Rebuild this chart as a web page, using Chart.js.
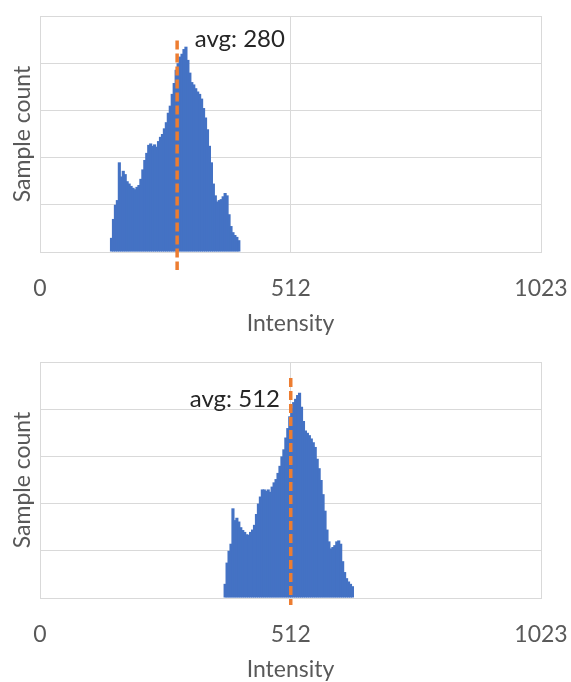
<!DOCTYPE html>
<html>
<head>
<meta charset="utf-8">
<title>Intensity histograms</title>
<script src="https://cdn.jsdelivr.net/npm/chart.js@4.4.1/dist/chart.umd.min.js"></script>
<style>
    html, body { margin: 0; padding: 0; background: #fff; overflow: hidden; }
    .panel { position: relative; width: 571px; height: 346px; }
</style>
</head>
<body>
<div class="panel"><canvas id="chartTop" width="571" height="346"></canvas></div>
<div class="panel"><canvas id="chartBottom" width="571" height="346"></canvas></div>
<script>
// -------------------------------------------------------
// Data
// -------------------------------------------------------
const X_TICKS = [0, 512, 1023];
const BIN_WIDTH = 4;

// upper panel: bins start at intensity 144
const topBinStart = 144;
const topCounts = [0.3, 0.7, 1.0, 1.1, 1.9, 1.6, 1.72, 1.65, 1.5, 1.45, 1.4, 1.36, 1.33, 1.38, 1.42,
    1.55, 1.75, 1.95, 2.1, 2.27, 2.3, 2.25, 2.28, 2.23, 2.35, 2.44, 2.5, 2.62, 2.75, 2.95, 3.1, 3.35,
    3.58, 3.86, 4.0, 4.14, 4.2, 4.3, 4.35, 4.07, 3.8, 3.6, 3.55, 3.47, 3.4, 3.35, 3.25, 3.05, 2.85,
    2.6, 2.25, 1.9, 1.45, 1.2, 1.07, 1.1, 1.12, 1.18, 1.25, 1.2, 0.8, 0.55, 0.42, 0.36, 0.32, 0.25];
const topAvg = 280;

// lower panel: bins start at intensity 376
const bottomBinStart = 376;
const bottomCounts = [0.3, 0.75, 1.0, 1.15, 1.9, 1.65, 1.7, 1.62, 1.5, 1.44, 1.4, 1.35, 1.34, 1.4, 1.45,
    1.55, 1.78, 2.0, 2.15, 2.3, 2.3, 2.27, 2.3, 2.25, 2.36, 2.45, 2.52, 2.65, 2.8, 3.0, 3.15, 3.4,
    3.6, 3.85, 4.02, 4.15, 4.22, 4.3, 4.35, 4.05, 3.75, 3.55, 3.5, 3.45, 3.38, 3.3, 3.2, 2.95, 2.75,
    2.5, 2.2, 1.85, 1.45, 1.2, 1.05, 1.08, 1.12, 1.2, 1.22, 1.15, 0.78, 0.55, 0.42, 0.35, 0.3, 0.25];
const bottomAvg = 512;

// -------------------------------------------------------
// Styles
// -------------------------------------------------------
const FONT = 'Lato, "Open Sans", sans-serif';
const GRID = '#D9D9D9';
const TEXT = '#595959';
const BAR = '#4472C4';
const AVG = '#ED7D31';

// draws the "avg: N" note at a data position
const avgLabelPlugin = {
    id: 'avgLabel',
    afterDatasetsDraw(chart, args, opts) {
        const { ctx, scales } = chart;
        const x = scales.x.getPixelForValue(opts.x);
        const y = scales.y.getPixelForValue(opts.y);
        ctx.save();
        ctx.font = '24px ' + FONT;
        ctx.fillStyle = '#262626';
        ctx.textAlign = opts.align;
        ctx.textBaseline = 'middle';
        ctx.fillText(opts.text, x, y);
        ctx.restore();
    }
};

function makeHistogram(canvasId, binStart, counts, avg, lineSpan, label) {
    const bars = counts.map((c, i) => ({ x: binStart + i * BIN_WIDTH + BIN_WIDTH / 2, y: c }));

    return new Chart(document.getElementById(canvasId).getContext('2d'), {
        type: 'bar',
        data: {
            datasets: [
                {
                    type: 'line',
                    data: [{ x: avg, y: lineSpan[0] }, { x: avg, y: lineSpan[1] }],
                    borderColor: AVG,
                    borderWidth: 3.5,
                    borderDash: [9, 4],
                    pointRadius: 0,
                    clip: false,
                    order: 0
                },
                {
                    data: bars,
                    backgroundColor: BAR,
                    borderWidth: 0,
                    barPercentage: 1.6,
                    categoryPercentage: 1,
                    order: 1
                }
            ]
        },
        options: {
            responsive: false,
            animation: false,
            events: [],
            layout: { padding: { top: 16, right: 30, left: 0, bottom: 0 } },
            plugins: {
                legend: { display: false },
                tooltip: { enabled: false },
                avgLabel: label
            },
            scales: {
                x: {
                    type: 'linear',
                    min: 0,
                    max: 1023,
                    offset: false,
                    afterBuildTicks: s => { s.ticks = X_TICKS.map(v => ({ value: v })); },
                    afterFit: s => { s.height = 94; s.paddingLeft = 0; s.paddingRight = 0; },
                    grid: { color: GRID, drawTicks: false, offset: false },
                    border: { color: GRID },
                    ticks: {
                        color: TEXT, padding: 23, maxRotation: 0,
                        font: { family: FONT, size: 23 },
                        callback: v => String(v)
                    },
                    title: {
                        display: true, text: 'Intensity', color: TEXT,
                        font: { family: FONT, size: 23 }, padding: { top: 0, bottom: 9 }
                    }
                },
                y: {
                    min: 0,
                    max: 5,
                    afterFit: s => { s.width = 40; },
                    grid: { color: GRID, drawTicks: false },
                    border: { color: GRID },
                    ticks: { display: false, stepSize: 1 },
                    title: {
                        display: true, text: 'Sample count', color: TEXT,
                        font: { family: FONT, size: 23 }, padding: { top: 9, bottom: 0 }
                    }
                }
            }
        },
        plugins: [avgLabelPlugin]
    });
}

makeHistogram('chartTop', topBinStart, topCounts, topAvg, [4.48, -0.38],
    { text: 'avg: 280', x: 316, y: 4.5, align: 'left' });
makeHistogram('chartBottom', bottomBinStart, bottomCounts, bottomAvg, [4.66, -0.15],
    { text: 'avg: 512', x: 490, y: 4.2, align: 'right' });
</script>
</body>
</html>
